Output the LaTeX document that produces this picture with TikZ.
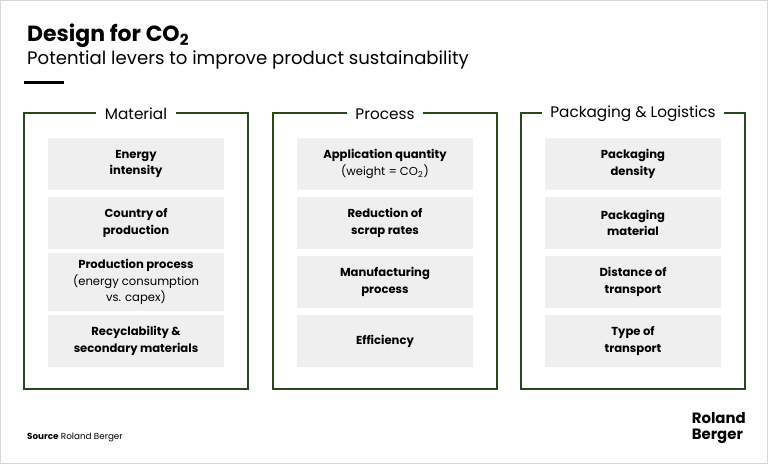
\documentclass[tikz,border=0pt]{standalone}
\usepackage{fontspec}
\setmainfont{Poppins}
\usetikzlibrary{positioning}
\definecolor{levergreen}{RGB}{38,72,26}
\definecolor{levergray}{RGB}{239,239,239}
\definecolor{framegray}{RGB}{215,215,215}

\tikzset{
  panel/.style={draw=levergreen, line width=1.6pt},
  paneltitle/.style={fill=white, inner xsep=5pt, font=\fontsize{8.7}{10}\selectfont},
  leverbox/.style={fill=levergray, minimum width=176*0.02cm, minimum height=52*0.02cm, align=center, font=\fontsize{6.6}{9.5}\selectfont\bfseries}
}

\begin{document}
\begin{tikzpicture}[x=0.02cm, y=-0.02cm]
% Background
\useasboundingbox (0,0) rectangle (768,464);
\draw[framegray, fill=white] (0.5,0.5) rectangle (767.5,463.5);

% Title
\node[anchor=west, font=\fontsize{12.5}{14}\selectfont\bfseries] (title) at (21,36) {Design for CO\textsubscript{2}};
\node[anchor=west, font=\fontsize{10.3}{12}\selectfont] (subtitle) at (21,60) {Potential levers to improve product sustainability};
\fill[black] (24,80.5) rectangle (64,83.5);

% Material
\draw[panel] (24,113) rectangle (248,389);
\node[paneltitle] (mat) at (136,114) {Material};
\node[leverbox] (m1) at (136,164) {Energy\\intensity};
\node[leverbox] (m2) at (136,223) {Country of\\production};
\node[leverbox] (m3) at (136,282) {Production process\\{\mdseries(energy consumption}\\{\mdseries vs. capex)}};
\node[leverbox] (m4) at (136,341) {Recyclability \&\\secondary materials};

% Process
\draw[panel] (273,113) rectangle (497,389);
\node[paneltitle] (proc) at (385,114) {Process};
\node[leverbox] (p1) at (385,164) {Application quantity\\{\mdseries(weight = CO\textsubscript{2})}};
\node[leverbox] (p2) at (385,223) {Reduction of\\scrap rates};
\node[leverbox] (p3) at (385,282) {Manufacturing\\process};
\node[leverbox] (p4) at (385,341) {Efficiency};

% Packaging & Logistics
\draw[panel] (521,113) rectangle (745,389);
\node[paneltitle] (pack) at (633,114) {Packaging \& Logistics};
\node[leverbox] (l1) at (633,164) {Packaging\\density};
\node[leverbox] (l2) at (633,223) {Packaging\\material};
\node[leverbox] (l3) at (633,282) {Distance of\\transport};
\node[leverbox] (l4) at (633,341) {Type of\\transport};

% Footer
\node[anchor=west, font=\fontsize{5}{6}\selectfont] (source) at (21,437) {\textbf{Source} Roland Berger};
\node[anchor=east, align=left, font=\fontsize{8.5}{9}\selectfont\bfseries] (logo) at (752,428) {Roland\\Berger};
\end{tikzpicture}
\end{document}
